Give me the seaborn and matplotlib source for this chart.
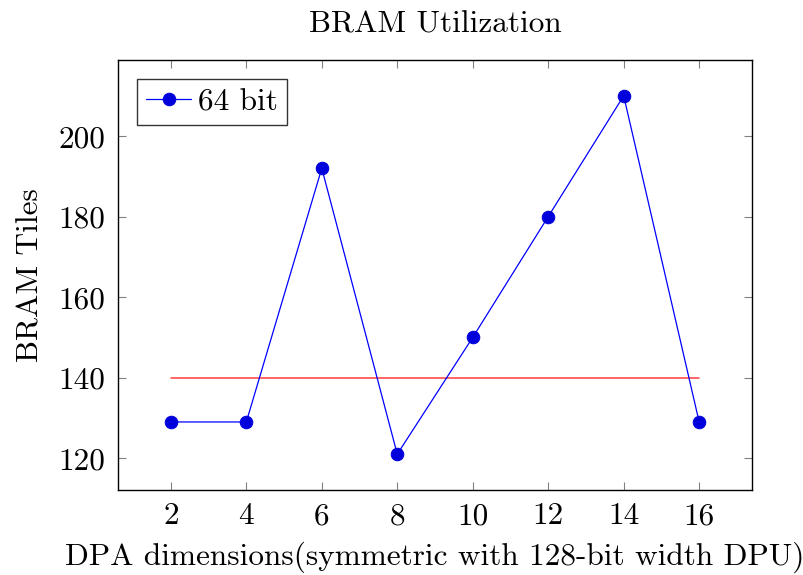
import matplotlib
matplotlib.use("Agg")
import matplotlib.pyplot as plt
import seaborn as sns
import pandas as pd

dims = [2, 4, 6, 8, 10, 12, 14, 16]
bram_tiles = [129, 129, 192, 121, 150, 180, 210, 129]
ref_x = [2, 16]
ref_y = [140, 140]
series_label = "64 bit"
x_ticks = [2, 4, 6, 8, 10, 12, 14, 16]
y_ticks = [120, 140, 160, 180, 200]

sns.set_theme(style="white")
plt.rcParams['font.family'] = ['cmr10', 'DejaVu Serif']
plt.rcParams['axes.formatter.use_mathtext'] = True
plt.rcParams['mathtext.fontset'] = 'cm'
plt.rcParams['text.color'] = 'black'
plt.rcParams['axes.labelcolor'] = 'black'
plt.rcParams['xtick.color'] = 'black'
plt.rcParams['ytick.color'] = 'black'

FS = 22.5

fig = plt.figure(figsize=(8.04, 5.75), dpi=100)
ax = fig.add_axes([118/804, 1-490/575, (752-118)/804, (490-60)/575])

df = pd.DataFrame({"dim": dims, "tiles": bram_tiles})
ref = pd.DataFrame({"x": ref_x, "y": ref_y})

sns.lineplot(data=ref, x="x", y="y", ax=ax, color="#ff3b3b", linewidth=1.1, legend=False)
sns.lineplot(data=df, x="dim", y="tiles", ax=ax, color="#0000ff", linewidth=0.9,
             marker="o", markersize=9, markerfacecolor="#0000dd", markeredgecolor="#0000dd",
             label=series_label)

ax.set_xlim(0.6, 17.4)
ax.set_ylim(112.1, 218.9)
ax.set_xticks(x_ticks)
ax.set_yticks(y_ticks)
ax.set_xticklabels([str(v) for v in x_ticks])
ax.set_yticklabels([str(v) for v in y_ticks])
ax.tick_params(direction="in", length=6, width=0.8, color="#808080",
               top=True, right=True, bottom=True, left=True,
               labelsize=FS, pad=9, labelcolor="black")
for s in ax.spines.values():
    s.set_color("black")
    s.set_linewidth(1.0)
ax.grid(False)

ax.set_title("BRAM Utilization", fontsize=FS, pad=20, color="black")
ax.set_xlabel("DPA dimensions(symmetric with 128-bit width DPU)", fontsize=FS, labelpad=8, color="black")
ax.set_ylabel("BRAM Tiles", fontsize=FS, labelpad=10, color="black")

leg = ax.legend(loc="upper left", fontsize=FS, frameon=True, fancybox=False,
                edgecolor="black", handlelength=1.45, handletextpad=0.2,
                borderpad=0.3, borderaxespad=0.6)
leg.get_frame().set_linewidth(1.0)
for t in leg.get_texts():
    t.set_color("black")

fig.savefig("out.png", dpi=100)
